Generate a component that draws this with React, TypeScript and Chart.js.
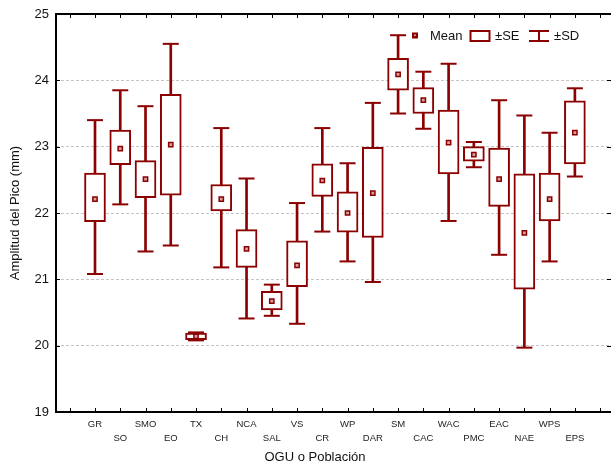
import React, { useEffect, useRef } from 'react';
import { Chart, registerables } from 'chart.js';

Chart.register(...registerables);

// ---- Data ----
const categories = ['GR', 'SO', 'SMO', 'EO', 'TX', 'CH', 'NCA', 'SAL', 'VS', 'CR', 'WP', 'DAR', 'SM', 'CAC', 'WAC', 'PMC', 'EAC', 'NAE', 'WPS', 'EPS'];
const means = [22.21, 22.97, 22.51, 23.03, 20.14, 22.21, 21.46, 20.67, 21.21, 22.49, 22.0, 22.3, 24.09, 23.7, 23.06, 22.88, 22.51, 21.7, 22.21, 23.21];
const seLow = [21.87, 22.73, 22.23, 22.27, 20.09, 22.03, 21.18, 20.54, 20.89, 22.25, 21.71, 21.63, 23.85, 23.5, 22.59, 22.78, 22.1, 20.85, 21.88, 22.74];
const seHigh = [22.6, 23.25, 22.79, 23.79, 20.19, 22.43, 21.75, 20.82, 21.58, 22.74, 22.32, 22.99, 24.33, 23.89, 23.55, 23.0, 22.98, 22.59, 22.6, 23.69];
const sdLow = [21.08, 22.13, 21.42, 21.51, 20.08, 21.18, 20.41, 20.45, 20.33, 21.72, 21.27, 20.96, 23.5, 23.27, 21.88, 22.69, 21.37, 19.97, 21.27, 22.55];
const sdHigh = [23.4, 23.85, 23.61, 24.55, 20.2, 23.28, 22.52, 20.92, 22.15, 23.28, 22.75, 23.66, 24.68, 24.13, 24.25, 23.07, 23.7, 23.47, 23.21, 23.88];
const yTickValues = [19, 20, 21, 22, 23, 24, 25];
const xTickValues = [-1, 0, 1, 2, 3, 4, 5, 6, 7, 8, 9, 10, 11, 12, 13, 14, 15, 16, 17, 18, 19, 20];
const xTitle = 'OGU o Población';
const yTitle = 'Amplitud del Pico (mm)';
const legendLabels = ['Mean', '±SE', '±SD'];

const RED = '#8b0000';
const FONT = 'Arial, "Liberation Sans", Helvetica, sans-serif';

export default function App() {
  const ref = useRef<HTMLCanvasElement>(null);

  useEffect(() => {
    if (!ref.current) return;
    const idx = categories.map((_, i) => i);

    const framePlugin = {
      id: 'framePlugin',
      afterDraw(chart: any) {
        const { ctx, chartArea: a, scales } = chart;
        const x = scales.x;
        const y = scales.y;
        ctx.save();
        // inner ticks
        ctx.strokeStyle = '#000';
        ctx.lineWidth = 1;
        ctx.beginPath();
        xTickValues.forEach((v) => {
          const px = Math.round(x.getPixelForValue(v)) + 0.5;
          ctx.moveTo(px, a.top);
          ctx.lineTo(px, a.top + 4);
          ctx.moveTo(px, a.bottom);
          ctx.lineTo(px, a.bottom - 4);
        });
        yTickValues.slice(1, -1).forEach((v) => {
          const py = Math.round(y.getPixelForValue(v)) + 0.5;
          ctx.moveTo(a.left, py);
          ctx.lineTo(a.left + 4, py);
          ctx.moveTo(a.right, py);
          ctx.lineTo(a.right - 4, py);
        });
        ctx.stroke();
        // frame
        ctx.lineWidth = 2;
        ctx.beginPath();
        ctx.moveTo(a.right + 2, a.top);
        ctx.lineTo(a.left, a.top);
        ctx.lineTo(a.left, a.bottom);
        ctx.lineTo(a.right + 2, a.bottom);
        ctx.stroke();

        // axis titles
        ctx.fillStyle = '#111';
        ctx.font = `13px ${FONT}`;
        ctx.textAlign = 'center';
        ctx.textBaseline = 'middle';
        ctx.fillText(xTitle, 315, 457);
        ctx.save();
        ctx.translate(15, (a.top + a.bottom) / 2);
        ctx.rotate(-Math.PI / 2);
        ctx.fillText(yTitle, 0, 0);
        ctx.restore();

        // legend
        const ly = 36;
        ctx.fillStyle = RED;
        ctx.fillRect(412, ly - 3.5, 6, 6);
        ctx.fillStyle = '#d9a0a0';
        ctx.fillRect(414, ly - 1.5, 2, 1.5);
        ctx.fillStyle = '#111';
        ctx.textAlign = 'left';
        ctx.fillText(legendLabels[0], 430, ly);
        ctx.strokeStyle = RED;
        ctx.lineWidth = 2;
        ctx.strokeRect(470.5, 31, 19, 10);
        ctx.fillText(legendLabels[1], 495, ly);
        ctx.beginPath();
        ctx.moveTo(529, 31);
        ctx.lineTo(549, 31);
        ctx.moveTo(539, 31);
        ctx.lineTo(539, 41);
        ctx.moveTo(529, 41);
        ctx.lineTo(549, 41);
        ctx.stroke();
        ctx.fillText(legendLabels[2], 554, ly);
        ctx.restore();
      },
    };

    const chart = new Chart(ref.current, {
      type: 'bar',
      data: {
        datasets: [
          {
            type: 'scatter',
            label: 'Mean',
            data: idx.map((i) => ({ x: i, y: means[i] })),
            pointStyle: 'rect',
            pointRadius: 3,
            pointBorderWidth: 1.5,
            pointBackgroundColor: '#d9a0a0',
            pointBorderColor: RED,
            order: 0,
          } as any,
          {
            type: 'bar',
            label: '±SE',
            data: idx.map((i) => ({ x: i, y: [seLow[i], seHigh[i]] })),
            backgroundColor: '#ffffff',
            borderColor: RED,
            borderWidth: 2,
            borderSkipped: false,
            barThickness: 21,
            grouped: false,
            order: 1,
          } as any,
          {
            type: 'scatter',
            label: 'SD caps',
            data: idx.flatMap((i) => [
              { x: i, y: sdLow[i] },
              { x: i, y: sdHigh[i] },
            ]),
            pointStyle: 'line',
            pointRadius: 8,
            pointBorderWidth: 2,
            pointBorderColor: RED,
            pointBackgroundColor: RED,
            order: 2,
          } as any,
          {
            type: 'bar',
            label: '±SD',
            data: idx.map((i) => ({ x: i, y: [sdLow[i], sdHigh[i]] })),
            backgroundColor: RED,
            borderWidth: 0,
            barThickness: 2,
            grouped: false,
            order: 3,
          } as any,
        ],
      },
      options: {
        responsive: false,
        animation: false,
        devicePixelRatio: 1,
        layout: { autoPadding: false, padding: { top: 14, right: 0, left: 0, bottom: 0 } },
        plugins: {
          legend: { display: false },
          tooltip: { enabled: false },
        },
        events: [],
        scales: {
          x: {
            type: 'linear',
            min: -1.544,
            max: 20.43,
            offset: false,
            afterBuildTicks: (axis: any) => {
              axis.ticks = idx.map((v) => ({ value: v }));
            },
            afterFit: (axis: any) => {
              axis.height = 58;
              axis.paddingLeft = 0;
              axis.paddingRight = 0;
            },
            grid: { display: false, drawTicks: false },
            border: { display: false },
            ticks: {
              autoSkip: false,
              maxRotation: 0,
              minRotation: 0,
              padding: 6,
              color: '#222',
              font: { family: FONT, size: 9.5, lineHeight: 1.42 },
              callback: (v: any) => {
                const i = Math.round(Number(v));
                const c = categories[i];
                if (c === undefined) return '';
                return i % 2 === 0 ? [c, ''] : ['', c];
              },
            },
          },
          y: {
            type: 'linear',
            min: 19,
            max: 25,
            afterBuildTicks: (axis: any) => {
              axis.ticks = yTickValues.map((v) => ({ value: v }));
            },
            afterFit: (axis: any) => {
              axis.width = 56;
              axis.paddingTop = 0;
              axis.paddingBottom = 0;
            },
            grid: {
              drawTicks: false,
              lineWidth: 1,
              color: (c: any) => (c.tick && (c.tick.value === 19 || c.tick.value === 25) ? 'rgba(0,0,0,0)' : '#c4c4c4'),
            },
            border: { display: false, dash: [3, 2] },
            ticks: {
              padding: 7,
              color: '#111',
              font: { family: FONT, size: 13 },
            },
          },
        },
      },
      plugins: [framePlugin],
    } as any);

    return () => chart.destroy();
  }, []);

  return (
    <div style={{ position: 'fixed', left: 0, top: 0, width: 611, height: 470, background: '#fff' }}>
      <canvas ref={ref} width={611} height={470} />
    </div>
  );
}
